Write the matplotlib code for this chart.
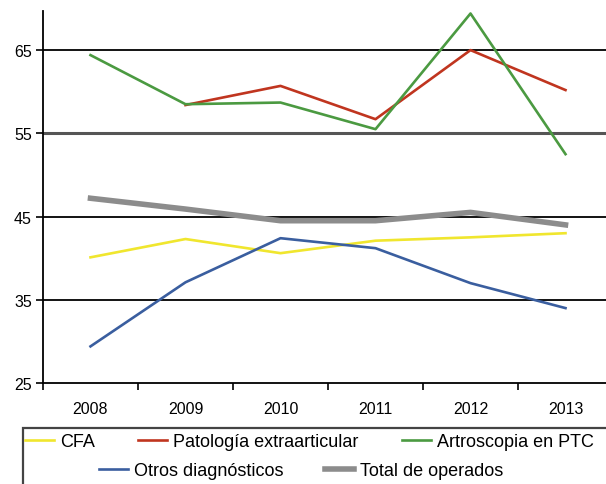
import matplotlib.pyplot as plt
from matplotlib.patches import Rectangle

years = ['2008', '2009', '2010', '2011', '2012', '2013']

cfa = [40.1, 42.3, 40.6, 42.1, 42.5, 43.0]
patologia = [None, 58.4, 60.7, 56.7, 65.0, 60.2]
artroscopia = [64.4, 58.5, 58.7, 55.5, 69.4, 52.5]
otros = [29.4, 37.1, 42.4, 41.2, 37.0, 34.0]
total = [47.2, 45.9, 44.5, 44.5, 45.5, 44.0]

yticks = [25, 35, 45, 55, 65]

plt.rcParams['font.family'] = ['Liberation Sans', 'DejaVu Sans']

W, H = 606, 485
fig = plt.figure(figsize=(W / 100, H / 100), dpi=100)
ax = fig.add_axes([43 / W, 1 - 384 / H, 570 / W, 372 / H])

x = list(range(len(years)))
pat_x = [i for i, v in zip(x, patologia) if v is not None]
pat_y = [v for v in patologia if v is not None]

# gridlines
for v in yticks[1:]:
    if v == 55:
        ax.axhline(v, color='#555555', lw=2.2, zorder=1)
    else:
        ax.axhline(v, color='black', lw=1.3, zorder=1)

l1, = ax.plot(x, cfa, color='#f0e62e', lw=1.9, label='CFA', zorder=3)
l2, = ax.plot(pat_x, pat_y, color='#c0351f', lw=1.9, label='Patología extraarticular', zorder=3)
l3, = ax.plot(x, artroscopia, color='#4b9a41', lw=1.9, label='Artroscopia en PTC', zorder=3)
l4, = ax.plot(x, otros, color='#3a5e9f', lw=1.9, label='Otros diagnósticos', zorder=3)
l5, = ax.plot(x, total, color='#8c8c8c', lw=4, label='Total de operados', zorder=2)

ax.set_xlim(-0.5, 5.5)
ax.set_ylim(25, 69.7)
ax.set_yticks(yticks)
ax.set_xticks([i + 0.5 for i in range(-1, 6)])
ax.set_xticklabels([])
ax.set_xticks(x, minor=True)
ax.set_xticklabels(years, minor=True)
ax.tick_params(axis='x', which='minor', length=0, labelsize=11.5, pad=13)
ax.tick_params(axis='x', which='major', length=5, width=1.2, direction='out')
ax.tick_params(axis='y', length=5, width=1.2, labelsize=11.5, pad=3)
for s in ['top', 'right']:
    ax.spines[s].set_visible(False)
ax.spines['left'].set_linewidth(1.3)
ax.spines['bottom'].set_linewidth(1.3)

# legend box
fig.add_artist(Rectangle((22.5 / W, -0.1), 1.0, (485 - 429) / H + 0.1,
                         transform=fig.transFigure, fill=False,
                         edgecolor='#444444', lw=1.6))

kw = dict(frameon=False, fontsize=13, handlelength=1.6, handletextpad=0.33,
          borderpad=0, borderaxespad=0, loc='center left')
entries = [(l1, 25, 443), (l2, 138, 443), (l3, 402, 443),
           (l4, 99, 472), (l5, 325, 472)]
for h, px, py in entries:
    fig.legend(handles=[h], bbox_to_anchor=(px / W, 1 - py / H), **kw)

fig.savefig('out.png', dpi=100)
